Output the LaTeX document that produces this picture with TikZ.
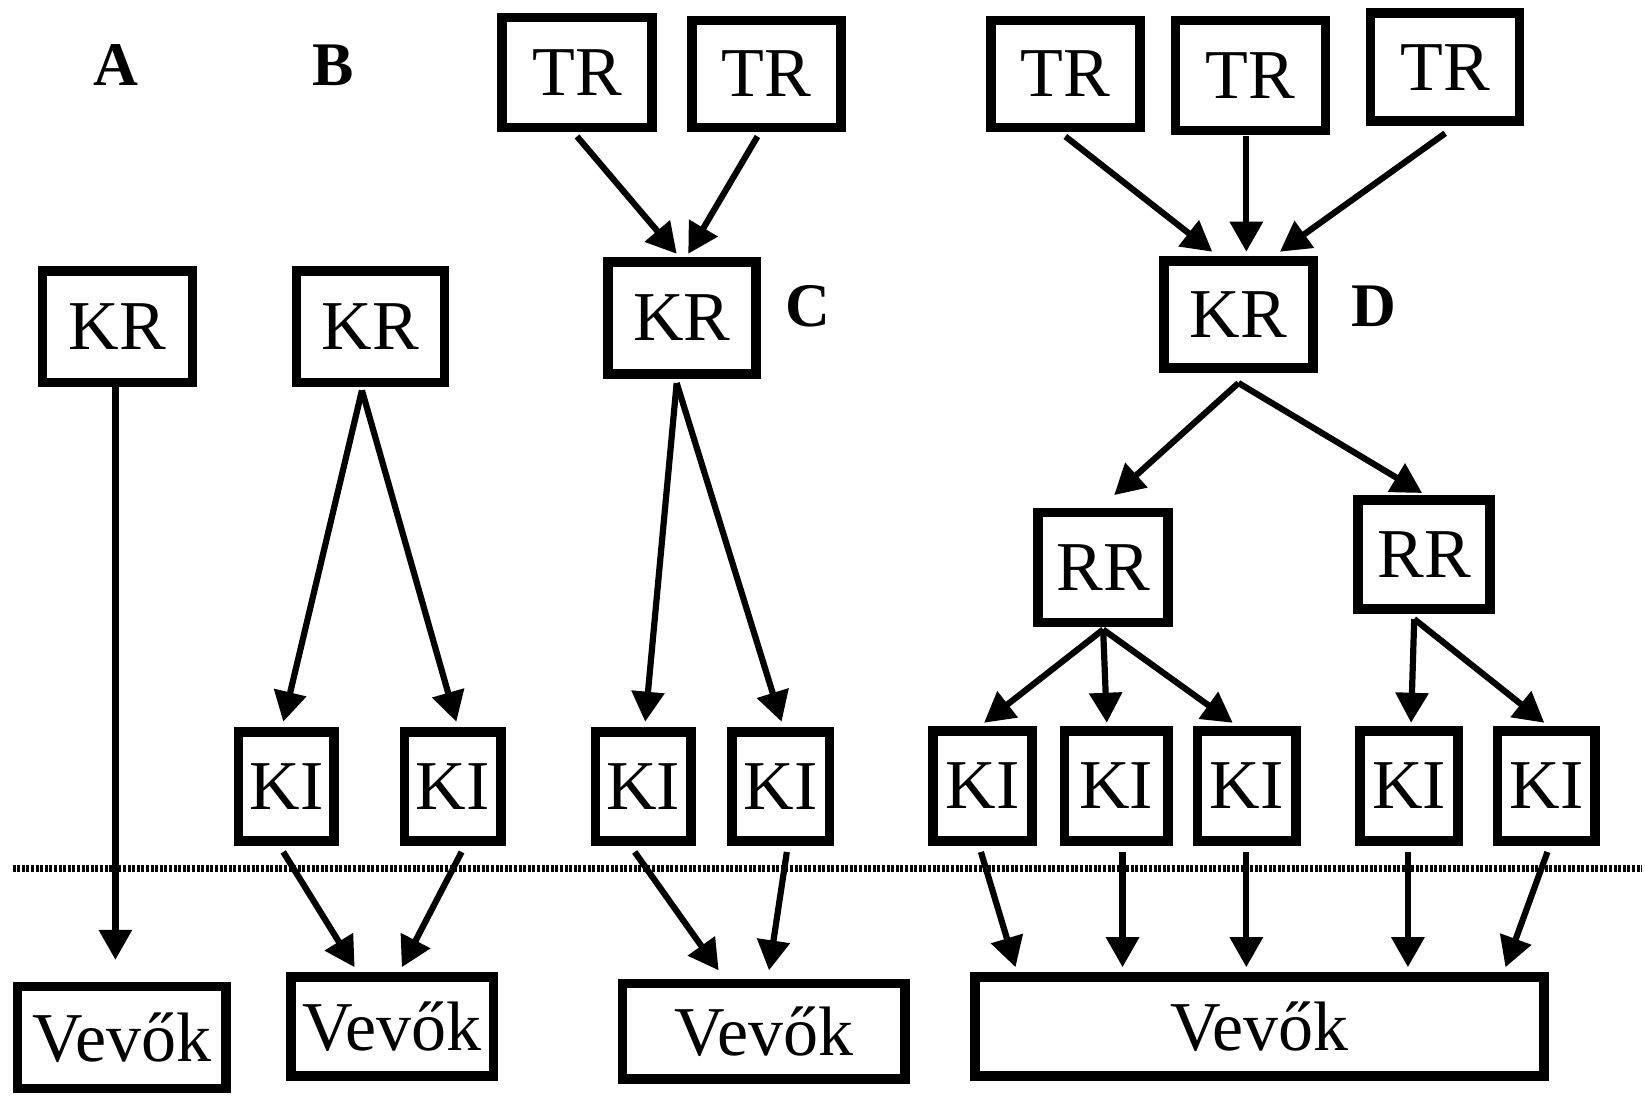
\documentclass[tikz,border=0pt]{standalone}
\usepackage{fontspec}
\setmainfont{Liberation Serif}
\usetikzlibrary{arrows.meta,calc}
\begin{document}
\begin{tikzpicture}[x=0.5245pt,y=-0.5245pt,
  bx/.style 2 args={draw, line width=4.8pt, inner sep=0pt,
    minimum width={0.5245*(#1-9)}, minimum height={0.5245*(#2-9)},
    font=\fontsize{35}{37}\selectfont},
  arr/.style={line width=3.1pt, -{Triangle[length=15pt,width=16pt]}},
  lbl/.style={inner sep=0pt, font=\fontsize{31}{33}\selectfont\bfseries},
  sep/.style={line width=3.2pt, dash pattern=on 1.5pt off 0.8pt, black}]
\useasboundingbox (0,0) rectangle (1568,1045);
% separator line
\coordinate (dl) at (12,828);
\coordinate (dr) at (1565,828);
\draw[sep] (dl) -- (dr);
% labels
\node[lbl] (la) at (110,62) {A};
\node[lbl] (lb) at (318,62) {B};
\node[lbl] (lc) at (770,292) {C};
\node[lbl] (ld) at (1310,292) {D};
% A
\node[bx={152}{115}] (kra) at (112,311.5) {KR};
\node[bx={208}{106}] (va) at (116,989) {Vevők};
% B
\node[bx={150}{115}] (krb) at (353,311.5) {KR};
\node[bx={100}{113}] (kib1) at (273,749.5) {KI};
\node[bx={101}{113}] (kib2) at (431.5,749.5) {KI};
\node[bx={202}{103}] (vb) at (374,978.5) {Vevők};
% C
\node[bx={152}{114}] (trc1) at (550,69) {TR};
\node[bx={151}{111}] (trc2) at (730.5,70.5) {TR};
\node[bx={150}{116}] (krc) at (650,303) {KR};
\node[bx={100}{113}] (kic1) at (613,749.5) {KI};
\node[bx={102}{113}] (kic2) at (744,749.5) {KI};
\node[bx={278}{100}] (vc) at (728,983) {Vevők};
% D
\node[bx={151}{111}] (trd1) at (1015.5,70.5) {TR};
\node[bx={152}{114}] (trd2) at (1192,72) {TR};
\node[bx={151}{112}] (trd3) at (1377.5,64) {TR};
\node[bx={151}{111}] (krd) at (1180.5,299.5) {KR};
\node[bx={133}{114}] (rr1) at (1051.5,541) {RR};
\node[bx={135}{113}] (rr2) at (1357.5,528.5) {RR};
\node[bx={103}{114}] (kid1) at (936.5,749) {KI};
\node[bx={108}{114}] (kid2) at (1064,749) {KI};
\node[bx={103}{114}] (kid3) at (1188.5,749) {KI};
\node[bx={102}{114}] (kid4) at (1343,749) {KI};
\node[bx={102}{114}] (kid5) at (1474,749) {KI};
\node[bx={551}{103}] (vd) at (1200.5,978.5) {Vevők};
% arrows A
\draw[arr] ($(kra.south)+(-2,0)$) -- ($(va.north)+(-6,-21)$);
% arrows B
\draw[arr] ($(krb.south)+(-8,3)$) -- ($(kib1.north)+(-3,-5)$);
\draw[arr] ($(krb.south)+(-8,3)$) -- ($(kib2.north)+(3.5,-5)$);
\draw[arr] ($(kib1.south)+(-3,6)$) -- ($(vb.north)+(-36,-5)$);
\draw[arr] ($(kib2.south)+(8.5,6)$) -- ($(vb.north)+(9,-5)$);
% arrows C
\draw[arr] ($(trc1.south)+(0,4)$) -- ($(krc.north)+(-5,-3)$);
\draw[arr] ($(trc2.south)+(-8.5,4)$) -- ($(krc.north)+(6,-3)$);
\draw[arr] ($(krc.south)+(-5,4)$) -- ($(kic1.north)+(2,-5)$);
\draw[arr] ($(krc.south)+(-5,4)$) -- ($(kic2.north)+(1,-5)$);
\draw[arr] ($(kic1.south)+(-8,6)$) -- ($(vc.north)+(-43,-8)$);
\draw[arr] ($(kic2.south)+(6,6)$) -- ($(vc.north)+(5,-8)$);
% arrows D
\draw[arr] ($(trd1.south)+(0,4)$) -- ($(krd.north)+(-25,-4)$);
\draw[arr] ($(trd2.south)+(-4,1)$) -- ($(krd.north)+(7.5,-4)$);
\draw[arr] ($(trd3.south)+(0,7)$) -- ($(krd.north)+(39.5,-4)$);
\draw[arr] ($(krd.south)+(0,10)$) -- ($(rr1.north)+(10.5,-12)$);
\draw[arr] ($(krd.south)+(0,10)$) -- ($(rr2.north)+(-2,-2)$);
\draw[arr] ($(rr1.south)+(0,2)$) -- ($(kid1.north)+(1.5,-3)$);
\draw[arr] ($(rr1.south)+(0,2)$) -- ($(kid2.north)+(-9,-3)$);
\draw[arr] ($(rr1.south)+(0,2)$) -- ($(kid3.north)+(-13.5,-3)$);
\draw[arr] ($(rr2.south)+(-9.5,5)$) -- ($(kid4.north)+(2,-3)$);
\draw[arr] ($(rr2.south)+(-9.5,5)$) -- ($(kid5.north)+(-2,-3)$);
\draw[arr] ($(kid1.south)+(-1.5,6)$) -- ($(vd.north)+(-232.5,-5)$);
\draw[arr] ($(kid2.south)+(6,6)$) -- ($(vd.north)+(-130.5,-5)$);
\draw[arr] ($(kid3.south)+(-0.5,6)$) -- ($(vd.north)+(-12.5,-5)$);
\draw[arr] ($(kid4.south)+(-1,6)$) -- ($(vd.north)+(141.5,-5)$);
\draw[arr] ($(kid5.south)+(1,6)$) -- ($(vd.north)+(234.5,-5)$);
\end{tikzpicture}
\end{document}
